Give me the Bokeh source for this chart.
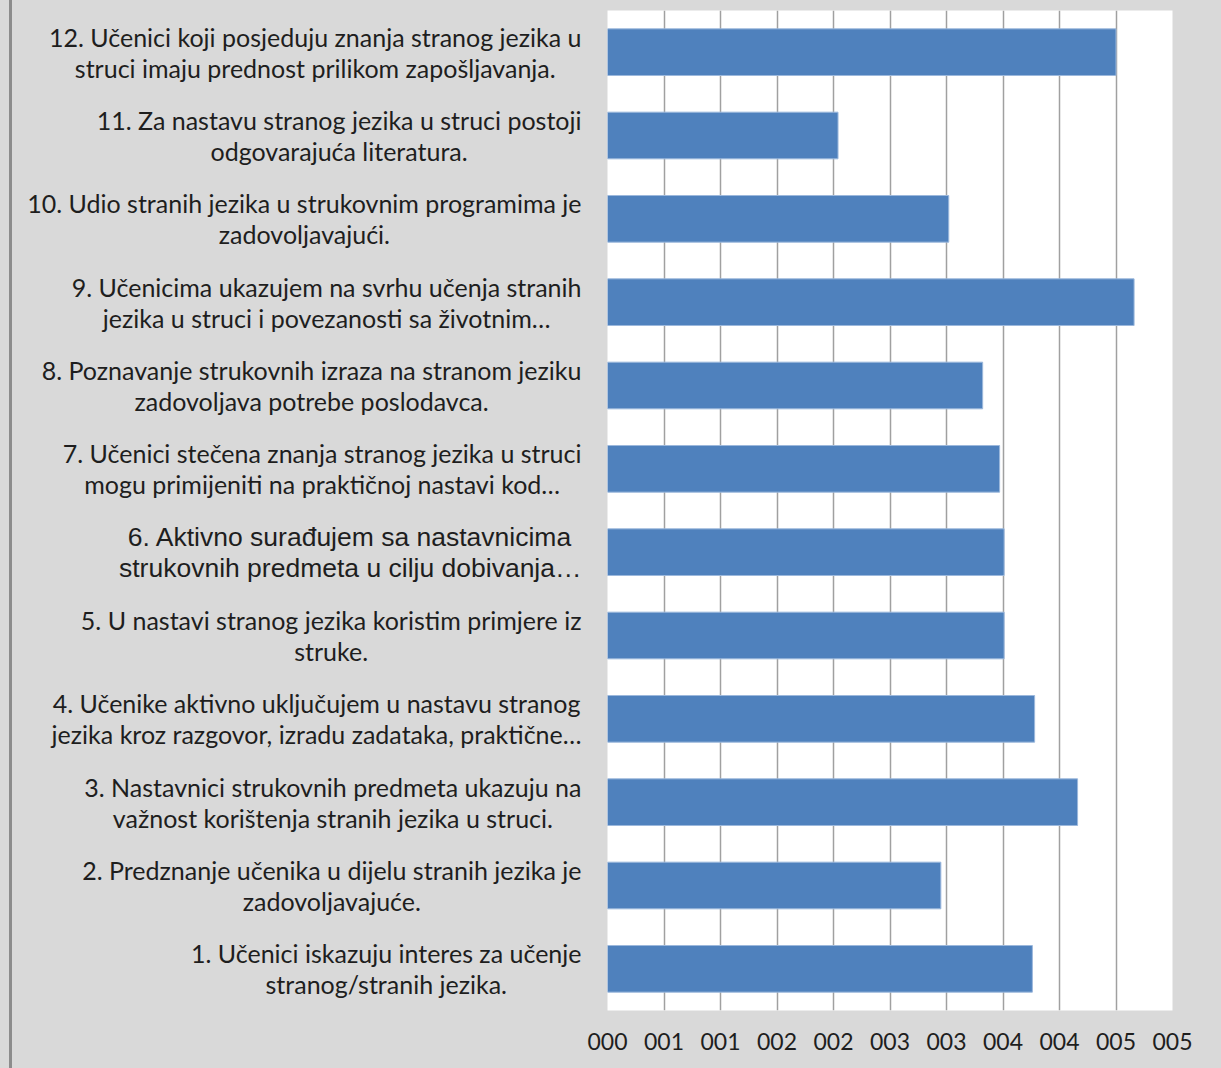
from bokeh.plotting import figure
from bokeh.layouts import row
from bokeh.models import ColumnDataSource, FactorRange, Range1d, FixedTicker, Div
from bokeh.embed import file_html
from bokeh.resources import INLINE

# ---- data ----
items = [str(i) for i in range(1, 13)]
labels = [
    "1. Učenici iskazuju interes za učenje\nstranog/stranih jezika.",
    "2. Predznanje učenika u dijelu stranih jezika je\nzadovoljavajuće.",
    "3. Nastavnici strukovnih predmeta ukazuju na\nvažnost korištenja stranih jezika u struci.",
    "4. Učenike aktivno uključujem u nastavu stranog\njezika kroz razgovor, izradu zadataka, praktične…",
    "5. U nastavi stranog jezika koristim primjere iz\nstruke.",
    "6. Aktivno surađujem sa nastavnicima\nstrukovnih predmeta u cilju dobivanja…",
    "7. Učenici stečena znanja stranog jezika u struci\nmogu primijeniti na praktičnoj nastavi kod…",
    "8. Poznavanje strukovnih izraza na stranom jeziku\nzadovoljava potrebe poslodavca.",
    "9. Učenicima ukazujem na svrhu učenja stranih\njezika u struci i povezanosti sa životnim…",
    "10. Udio stranih jezika u strukovnim programima je\nzadovoljavajući.",
    "11. Za nastavu stranog jezika u struci postoji\nodgovarajuća literatura.",
    "12. Učenici koji posjeduju znanja stranog jezika u\nstruci imaju prednost prilikom zapošljavanja.",
]
values = [3.76, 2.95, 4.16, 3.78, 3.51, 3.51, 3.47, 3.32, 4.66, 3.02, 2.04, 4.50]
tick_values = [0.0, 0.5, 1.0, 1.5, 2.0, 2.5, 3.0, 3.5, 4.0, 4.5, 5.0]
tick_labels = ["000", "001", "001", "002", "002", "003", "003", "004", "004", "005", "005"]

# ---- style ----
BG = "#d9d9d9"
EDGE = "#8c8c8c"
W, H = 1221, 1068
TOP, BOTTOM = 10, 58
PAD_W, EDGE_W = 9, 3
LABEL_END = 582          # right edge of the label panel
PLOT_LEFT_PAD = 25       # grey space left of the plot frame (frame starts at 607)
TEXT_COLOR = "#1e1e1e"

pad = Div(text="", width=PAD_W, height=H, margin=0, styles={"background-color": BG})
edge = Div(text="", width=EDGE_W, height=H, margin=0, styles={"background-color": EDGE})

y_range = FactorRange(factors=items)

# label panel
x0 = PAD_W + EDGE_W
fb = figure(width=LABEL_END - x0, height=H, x_range=Range1d(x0, LABEL_END),
            y_range=y_range, x_axis_location=None, y_axis_location=None,
            toolbar_location=None, output_backend="svg",
            min_border_left=0, min_border_right=0,
            min_border_top=TOP, min_border_bottom=BOTTOM,
            background_fill_color=BG, border_fill_color=BG, outline_line_color=None)
fb.grid.visible = False

fonts = ["Liberation Sans" if it == "6" else "Lato" for it in items]
sizes = ["26.5px" if it == "6" else "25px" for it in items]
lsrc = ColumnDataSource(dict(y=items, text=labels, font=fonts, size=sizes))
fb.text(x=LABEL_END - 1, y="y", text="text", source=lsrc, anchor="center_right",
        text_align="center", text_baseline="middle", text_font="font",
        text_font_size="size", text_line_height=1.04, text_color=TEXT_COLOR)

# bar chart
fc = figure(width=W - LABEL_END, height=H, x_range=Range1d(0, 5), y_range=y_range,
            y_axis_location=None, toolbar_location=None, output_backend="svg",
            min_border_left=PLOT_LEFT_PAD, min_border_right=49,
            min_border_top=TOP, min_border_bottom=BOTTOM,
            background_fill_color="white", border_fill_color=BG,
            outline_line_color=None)
fc.hbar(y=items, right=values, left=0, height=0.56,
        fill_color="#4f81bd", line_color="#9cb8dc", line_width=1)
fc.xaxis.ticker = FixedTicker(ticks=tick_values)
fc.xaxis.major_label_overrides = {v: l for v, l in zip(tick_values, tick_labels)}
fc.xaxis.axis_line_color = None
fc.xaxis.major_tick_line_color = None
fc.xaxis.minor_tick_line_color = None
fc.xaxis.major_label_standoff = 16
fc.xaxis.major_label_text_font = "Lato"
fc.xaxis.major_label_text_font_size = "23px"
fc.xaxis.major_label_text_color = TEXT_COLOR
fc.xgrid.grid_line_color = "#a0a0a0"
fc.xgrid.grid_line_width = 1.5
fc.ygrid.visible = False

layout = row(pad, edge, fb, fc, styles={"background-color": BG})
open("out.html", "w").write(file_html(layout, INLINE))
